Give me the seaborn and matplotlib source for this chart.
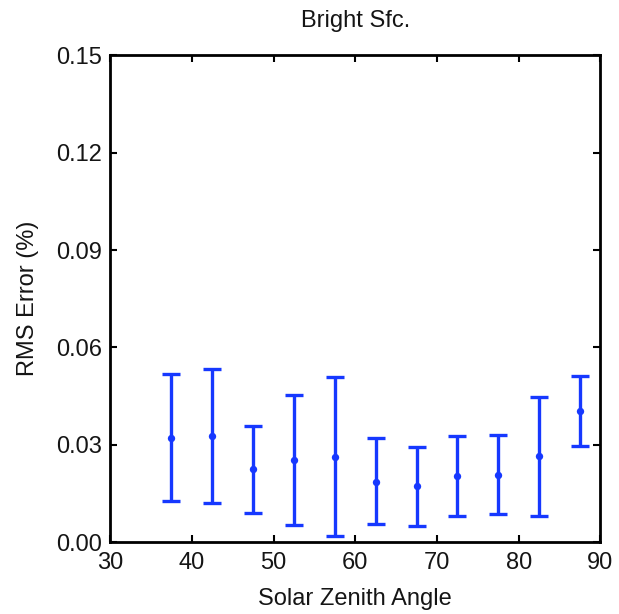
import numpy as np
import pandas as pd
import matplotlib
matplotlib.use("Agg")
import matplotlib.pyplot as plt
import seaborn as sns

# Values
sza = [37.5, 42.5, 47.5, 52.5, 57.5, 62.5, 67.5, 72.5, 77.5, 82.5, 87.5]
rms_mean = [0.0320, 0.0327, 0.0226, 0.0252, 0.0262, 0.0186, 0.0174, 0.0204, 0.0206, 0.0265, 0.0403]
rms_upper = [0.0517, 0.0532, 0.0358, 0.0453, 0.0508, 0.0322, 0.0294, 0.0327, 0.0331, 0.0447, 0.0513]
rms_lower = [0.0126, 0.0121, 0.0091, 0.0052, 0.0018, 0.0055, 0.0049, 0.0082, 0.0086, 0.0082, 0.0295]

xticks = [30, 40, 50, 60, 70, 80, 90]
yticks = [0.00, 0.03, 0.06, 0.09, 0.12, 0.15]

blue = "#1638ff"
ink = "#151515"

sns.set_style("ticks")
plt.rcParams["font.family"] = ["Liberation Sans", "DejaVu Sans"]
plt.rcParams["text.color"] = ink
plt.rcParams["axes.labelcolor"] = ink
plt.rcParams["xtick.color"] = "black"
plt.rcParams["ytick.color"] = "black"
plt.rcParams["xtick.labelcolor"] = ink
plt.rcParams["ytick.labelcolor"] = ink

df = pd.DataFrame({"sza": sza, "rms": rms_mean})
yerr = np.array([
    np.array(rms_mean) - np.array(rms_lower),
    np.array(rms_upper) - np.array(rms_mean),
])

fig = plt.figure(figsize=(6.19, 6.14), dpi=100)
ax = fig.add_axes([0.178, 0.117, 0.792, 0.793])

ax.errorbar(sza, rms_mean, yerr=yerr, fmt="none", ecolor=blue,
            elinewidth=2.4, capsize=6.5, capthick=2.4)
sns.scatterplot(data=df, x="sza", y="rms", color=blue, s=28,
                edgecolor=blue, linewidth=0, ax=ax, zorder=3)

ax.set_xlim(30, 90)
ax.set_ylim(0, 0.15)
ax.set_xticks(xticks)
ax.set_yticks(yticks)
ax.set_yticklabels([f"{v:.2f}" for v in yticks])
ax.tick_params(direction="in", top=True, right=True, length=5, width=1.5,
               labelsize=17, pad=6)
ax.tick_params(axis="x", pad=7)
for sp in ax.spines.values():
    sp.set_linewidth(2)
    sp.set_color("black")

ax.set_xlabel("Solar Zenith Angle", fontsize=17, labelpad=10)
ax.set_ylabel("RMS Error (%)", fontsize=17, labelpad=12)
ax.set_title("Bright Sfc.", fontsize=17, pad=20)

fig.savefig("out.png", dpi=100)
